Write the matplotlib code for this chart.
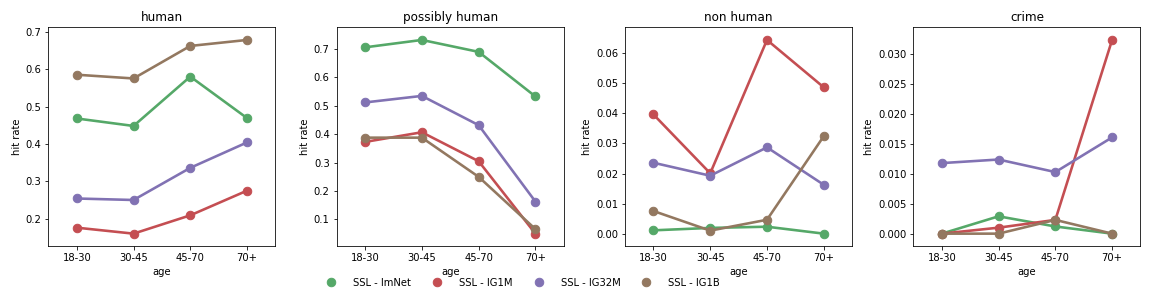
import matplotlib
matplotlib.use("Agg")
import matplotlib.pyplot as plt
from matplotlib.lines import Line2D

ages = ["18-30", "30-45", "45-70", "70+"]
models = ["SSL - ImNet", "SSL - IG1M", "SSL - IG32M", "SSL - IG1B"]
colors = ["#55A868", "#C44E52", "#8172B3", "#937860"]
panels = ["human", "possibly human", "non human", "crime"]

# hit rate per panel, one list per model (ImNet, IG1M, IG32M, IG1B)
human = [
    [0.468, 0.448, 0.580, 0.469],
    [0.176, 0.160, 0.209, 0.275],
    [0.254, 0.250, 0.336, 0.404],
    [0.585, 0.575, 0.662, 0.678],
]
possibly_human = [
    [0.706, 0.732, 0.690, 0.533],
    [0.373, 0.407, 0.305, 0.050],
    [0.512, 0.535, 0.432, 0.163],
    [0.388, 0.388, 0.250, 0.066],
]
non_human = [
    [0.0012, 0.0020, 0.0024, 0.0001],
    [0.0396, 0.0201, 0.0643, 0.0486],
    [0.0236, 0.0193, 0.0287, 0.0163],
    [0.0076, 0.0011, 0.0047, 0.0324],
]
crime = [
    [0.0000, 0.0029, 0.0012, 0.0000],
    [0.0000, 0.0010, 0.0023, 0.0324],
    [0.0118, 0.0124, 0.0103, 0.0161],
    [0.0000, 0.0000, 0.0023, 0.0000],
]
data = [human, possibly_human, non_human, crime]

plt.rcParams["font.size"] = 10
fig, axes = plt.subplots(1, 4, figsize=(16, 4), dpi=72)
fig.subplots_adjust(left=0.042, right=0.99, top=0.905, bottom=0.145, wspace=0.27)

x = list(range(len(ages)))
for ax, title, rows in zip(axes, panels, data):
    for vals, c in zip(rows, colors):
        ax.plot(x, vals, color=c, lw=2.6, marker="o", ms=8.5)
    ax.set_xticks(x)
    ax.set_xticklabels(ages)
    ax.set_xlim(-0.5, 3.5)
    ax.margins(y=0.065)
    ax.set_title(title, fontsize=12)
    ax.set_xlabel("age")
    ax.set_ylabel("hit rate")

handles = [Line2D([], [], color=c, marker="o", ls="", ms=8.5) for c in colors]
fig.legend(handles, models, loc="lower center", bbox_to_anchor=(0.452, -0.03),
           ncol=4, frameon=False, columnspacing=1.6, handletextpad=1.2)

fig.savefig("out.png")
